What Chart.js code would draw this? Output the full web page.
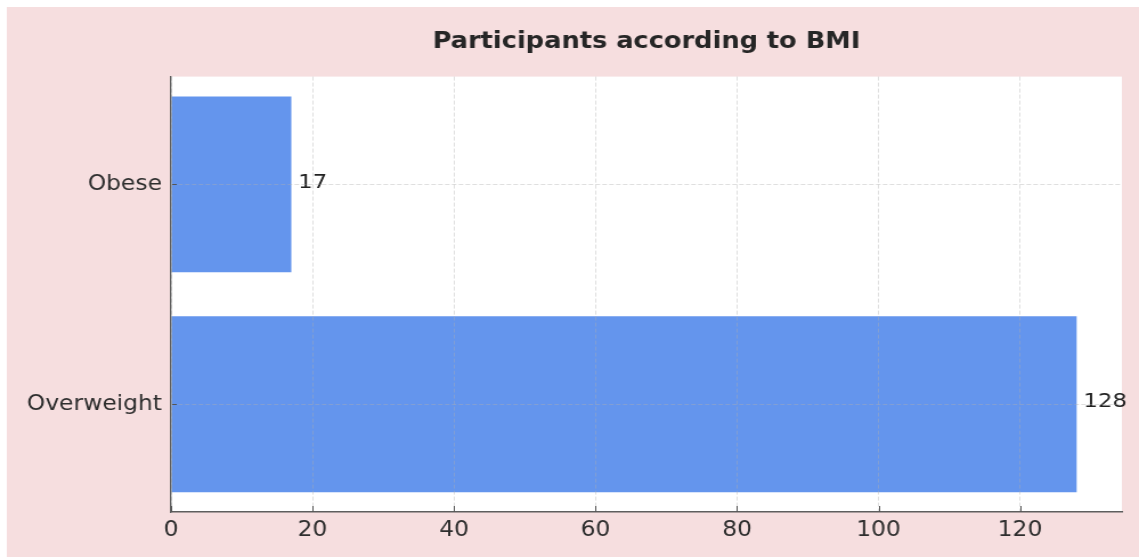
<!DOCTYPE html>
<html>
<head>
<meta charset="utf-8">
<script src="https://cdn.jsdelivr.net/npm/chart.js@4.4.1/dist/chart.umd.min.js"></script>
<style>
  html, body { margin: 0; padding: 0; background: #ffffff; overflow: hidden; }
  /* the chart is laid out on a narrower canvas and widened to the page */
  #wrap { position: absolute; left: 0; top: 0; width: 999px; height: 557px;
          transform: scaleX(1.14014); transform-origin: 0 0; }
  canvas { display: block; }
</style>
</head>
<body>
<div id="wrap"><canvas id="c" width="999" height="557"></canvas></div>
<script>
// BMI groups, bottom to top on the index axis
const categories = ['Overweight', 'Obese'];
const participants = [128, 17];
const categoryPositions = [0, 1];
const xTickValues = [0, 20, 40, 60, 80, 100, 120];

const FONT = 'DejaVu Sans';

// pink figure background with a white plotting area
const backdrop = {
  id: 'backdrop',
  beforeDraw(chart) {
    const { ctx, width, height, chartArea: a } = chart;
    ctx.save();
    ctx.fillStyle = '#ffffff';
    ctx.fillRect(0, 0, width, height);
    ctx.fillStyle = '#f6dedf';
    ctx.fillRect(6, 7, width - 6, height - 7);
    ctx.fillStyle = '#ffffff';
    ctx.fillRect(a.left, a.top, a.right - a.left, a.bottom - a.top);
    ctx.restore();
  }
};

// count printed just past the end of each bar
const valueLabels = {
  id: 'valueLabels',
  afterDatasetsDraw(chart) {
    const { ctx } = chart;
    const meta = chart.getDatasetMeta(0);
    ctx.save();
    ctx.font = '20px "' + FONT + '"';
    ctx.fillStyle = '#222222';
    ctx.textAlign = 'left';
    ctx.textBaseline = 'middle';
    meta.data.forEach((bar, i) => {
      ctx.fillText(String(participants[i]), bar.x + 6, bar.y - 2);
    });
    ctx.restore();
  }
};

// short tick marks pointing into the plot area
const innerTicks = {
  id: 'innerTicks',
  afterDraw(chart) {
    const { ctx, chartArea: a, scales: { x, y } } = chart;
    ctx.save();
    ctx.strokeStyle = '#555555';
    ctx.lineWidth = 1;
    ctx.beginPath();
    x.ticks.forEach(t => {
      const px = Math.round(x.getPixelForValue(t.value)) + 0.5;
      ctx.moveTo(px, a.bottom);
      ctx.lineTo(px, a.bottom - 6);
    });
    y.ticks.forEach(t => {
      const py = Math.round(y.getPixelForValue(t.value)) + 0.5;
      ctx.moveTo(a.left + 1, py);
      ctx.lineTo(a.left + 5, py);
    });
    ctx.stroke();
    ctx.restore();
  }
};

const gridStyle = { color: 'rgba(176,176,176,0.4)', lineWidth: 1, drawTicks: false, z: 1 };

new Chart(document.getElementById('c'), {
  type: 'bar',
  data: {
    labels: categories,
    datasets: [{
      data: categories.map((c, i) => ({ x: participants[i], y: categoryPositions[i] })),
      backgroundColor: '#6495ed',
      borderWidth: 0,
      barPercentage: 0.8,
      categoryPercentage: 1
    }]
  },
  options: {
    indexAxis: 'y',
    responsive: false,
    animation: false,
    events: [],
    devicePixelRatio: 1,
    layout: { padding: { top: 0, right: 15, bottom: 0, left: 0 } },
    plugins: {
      legend: { display: false },
      tooltip: { enabled: false },
      title: {
        display: true,
        text: 'Participants according to BMI',
        fullSize: false,
        color: '#262626',
        font: { family: FONT, size: 22.5, weight: 'bold' },
        padding: { top: 29, bottom: 20.6 }
      }
    },
    scales: {
      x: {
        type: 'linear',
        min: 0,
        max: 134.4,
        afterBuildTicks: s => { s.ticks = xTickValues.map(v => ({ value: v })); },
        afterFit: s => { s.height = 45; },
        grid: gridStyle,
        border: { display: true, color: '#5e5e5e', width: 1.5, dash: [4, 2], z: 1 },
        ticks: { padding: 6, color: '#2e2e2e', font: { family: FONT, size: 20.5 } }
      },
      y: {
        type: 'linear',
        min: -0.49,
        max: 1.49,
        offset: false,
        afterBuildTicks: s => { s.ticks = categoryPositions.map(v => ({ value: v })); },
        afterFit: s => { s.width = 150; },
        grid: Object.assign({ offset: false }, gridStyle),
        border: { display: true, color: '#5e5e5e', width: 1.3, dash: [4, 2], z: 1 },
        ticks: {
          padding: 8,
          color: '#2e2e2e',
          font: { family: FONT, size: 20.5 },
          callback: v => categories[categoryPositions.indexOf(v)]
        }
      }
    }
  },
  plugins: [backdrop, valueLabels, innerTicks]
});
</script>
</body>
</html>
